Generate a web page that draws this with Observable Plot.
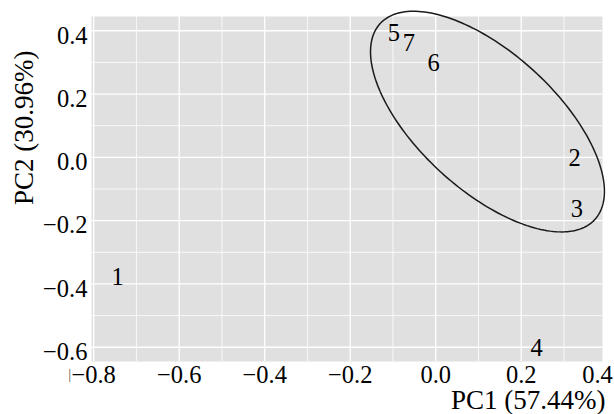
<!DOCTYPE html>
<html>
<head>
<meta charset="utf-8">
<script src="https://cdn.jsdelivr.net/npm/d3@7"></script>
<script src="https://cdn.jsdelivr.net/npm/@observablehq/plot@0.6"></script>
<style>
  html, body { margin: 0; padding: 0; background: #fff; }
</style>
</head>
<body>
<div id="chart"></div>
<script>
// Data
const sampleLabels = ["1", "2", "3", "4", "5", "6", "7"];
const pc1 = [-0.744, 0.325, 0.33, 0.236, -0.098, -0.005, -0.063];
const pc2 = [-0.38, -0.003, -0.163, -0.603, 0.392, 0.297, 0.36];

// Ellipse (stat_ellipse) parameters: center and covariance [sxx, sxy, syy]
const ellipseCenter = [0.121, 0.113];
const ellipseCov = [0.0748, -0.0603, 0.1215];

// Axis ticks
const xMajor = [-0.8, -0.6, -0.4, -0.2, 0.0, 0.2];
const xMinor = [-0.7, -0.5, -0.3, -0.1, 0.1, 0.3];
const yMajor = [-0.6, -0.4, -0.2, 0.0, 0.2, 0.4];
const yMinor = [-0.5, -0.3, -0.1, 0.1, 0.3];
const xEdgeTick = [0.4];
const xTitle = "PC1 (57.44%)";
const yTitle = "PC2 (30.96%)";

const points = sampleLabels.map((s, i) => ({label: s, x: pc1[i], y: pc2[i]}));

// ellipse outline from its center and covariance (Cholesky)
const L11 = Math.sqrt(ellipseCov[0]);
const L21 = ellipseCov[1] / L11;
const L22 = Math.sqrt(ellipseCov[2] - L21 * L21);
const ellipse = d3.range(0, 201).map(k => {
  const t = (k / 200) * 2 * Math.PI;
  const c = Math.cos(t), s = Math.sin(t);
  return {x: ellipseCenter[0] + L11 * c, y: ellipseCenter[1] + L21 * c + L22 * s};
});

const fmt = d3.format(".1f");
const font = "'Liberation Serif', 'Times New Roman', serif";
const tickFont = 24.5;
const titleFont = 27;

const chart = Plot.plot({
  width: 614,
  height: 414,
  marginLeft: 91,
  marginRight: 12,
  marginTop: 16,
  marginBottom: 53,
  style: {fontFamily: font, fontSize: "24px", color: "#000", background: "#fff", overflow: "visible"},
  x: {domain: [-0.805, 0.39]},
  y: {domain: [-0.645, 0.445]},
  marks: [
    Plot.frame({fill: "#e0e0e0", stroke: null}),
    Plot.ruleX(xMinor, {stroke: "#fff", strokeWidth: 0.8}),
    Plot.ruleY(yMinor, {stroke: "#fff", strokeWidth: 0.8}),
    Plot.ruleX(xMajor, {stroke: "#fff", strokeWidth: 1.3}),
    Plot.ruleY(yMajor, {stroke: "#fff", strokeWidth: 1.3}),
    Plot.axisX(xMajor, {tickSize: 0, tickPadding: 4, tickFormat: fmt, label: null, fontSize: tickFont, fontFamily: font}),
    Plot.axisY(yMajor, {tickSize: 0, tickPadding: 4, tickFormat: fmt, label: null, fontSize: tickFont, dy: 5, fontFamily: font}),
    Plot.text(xEdgeTick, {x: d => d, frameAnchor: "bottom", text: d => fmt(d), textAnchor: "end", lineAnchor: "top", dy: 4, dx: 6, fontSize: tickFont, fontFamily: font, clip: false}),
    Plot.text([xMajor[0]], {x: d => d, frameAnchor: "bottom", text: () => "|", textAnchor: "middle", lineAnchor: "top", dy: 7, dx: -24, fontSize: 15, fill: "#555", fontFamily: font}),
    Plot.line(ellipse, {x: "x", y: "y", stroke: "#1a1a1a", strokeWidth: 1.5, curve: "linear"}),
    Plot.text(points, {x: "x", y: "y", text: "label", fontSize: tickFont, fill: "#000", lineAnchor: "middle", fontFamily: font}),
    Plot.text([xTitle], {frameAnchor: "bottom-right", text: d => d, textAnchor: "end", lineAnchor: "bottom", dy: 47, dx: 3, fontSize: titleFont, fontFamily: font}),
    Plot.text([yTitle], {frameAnchor: "left", text: d => d, rotate: -90, lineAnchor: "middle", dx: -67, dy: 16, fontSize: titleFont, fontFamily: font})
  ]
});

document.getElementById("chart").appendChild(chart);
</script>
</body>
</html>
